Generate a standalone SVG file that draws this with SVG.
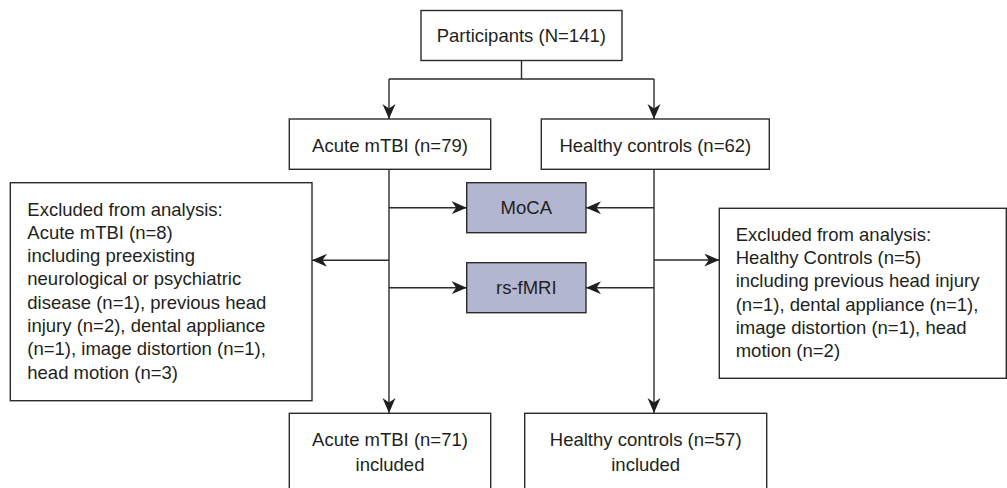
<svg xmlns="http://www.w3.org/2000/svg" width="1007" height="488" viewBox="0 0 1007 488">
<style>
.box{fill:#fff;stroke:#2b2b2b;stroke-width:1.4}
.hl{fill:#b3b6d1;stroke:#2b2b2b;stroke-width:1.4}
.t{font-family:"Liberation Sans",Arial,sans-serif;font-size:18.5px;fill:#231f20}
.c{text-anchor:middle}
.ln{fill:none;stroke:#2b2b2b;stroke-width:1.4}
</style>
<defs>
<marker id="ah" markerUnits="userSpaceOnUse" markerWidth="16" markerHeight="14" refX="15" refY="6.5" orient="auto">
<path d="M0,0 L15,6.5 L0,13 L4.5,6.5 z" fill="#1f1f1f"/>
</marker>
</defs>
<g id="connectors">
<path class="ln" d="M521.5,60.7 V79 M389,79 H654"/>
<path class="ln" d="M389,79 V119" marker-end="url(#ah)"/>
<path class="ln" d="M654,79 V119" marker-end="url(#ah)"/>
<path class="ln" d="M389,169 V413" marker-end="url(#ah)"/>
<path class="ln" d="M654,169 V413" marker-end="url(#ah)"/>
<path class="ln" d="M389,207.7 H466.7" marker-end="url(#ah)"/>
<path class="ln" d="M389,287.7 H466.7" marker-end="url(#ah)"/>
<path class="ln" d="M389,260.3 H312" marker-end="url(#ah)"/>
<path class="ln" d="M654,207.7 H586" marker-end="url(#ah)"/>
<path class="ln" d="M654,287.7 H586" marker-end="url(#ah)"/>
<path class="ln" d="M654,260 H719.3" marker-end="url(#ah)"/>
</g>
<g id="participants">
<rect class="box" x="421" y="10.5" width="201" height="50"/>
<text class="t c" x="521.3" y="41.7">Participants (N=141)</text>
</g>
<g id="acute">
<rect class="box" x="289.3" y="119" width="201.4" height="50.3"/>
<text class="t c" x="390" y="151.7">Acute mTBI (n=79)</text>
</g>
<g id="healthy">
<rect class="box" x="541.3" y="119" width="228" height="50.3"/>
<text class="t c" x="655.3" y="151.7">Healthy controls (n=62)</text>
</g>
<g id="moca">
<rect class="hl" x="466.7" y="182.7" width="119.3" height="50"/>
<text class="t c" x="526.3" y="214.3">MoCA</text>
</g>
<g id="rsfmri">
<rect class="hl" x="466.7" y="262.7" width="119.3" height="50"/>
<text class="t c" x="526.3" y="294.3">rs-fMRI</text>
</g>
<g id="excl-left">
<rect class="box" x="10.3" y="182.7" width="301.7" height="218"/>
<text class="t" x="27.3" y="215.5">Excluded from analysis:</text>
<text class="t" x="27.3" y="238.8">Acute mTBI (n=8)</text>
<text class="t" x="27.3" y="262.1">including preexisting</text>
<text class="t" x="27.3" y="285.4">neurological or psychiatric</text>
<text class="t" x="27.3" y="308.7">disease (n=1), previous head</text>
<text class="t" x="27.3" y="332">injury (n=2), dental appliance</text>
<text class="t" x="27.3" y="355.3">(n=1), image distortion (n=1),</text>
<text class="t" x="27.3" y="378.6">head motion (n=3)</text>
</g>
<g id="excl-right">
<rect class="box" x="719.3" y="208.3" width="287" height="170"/>
<text class="t" x="735.7" y="240.7">Excluded from analysis:</text>
<text class="t" x="735.7" y="264">Healthy Controls (n=5)</text>
<text class="t" x="735.7" y="287.3">including previous head injury</text>
<text class="t" x="735.7" y="310.6">(n=1), dental appliance (n=1),</text>
<text class="t" x="735.7" y="333.9">image distortion (n=1), head</text>
<text class="t" x="735.7" y="357.2">motion (n=2)</text>
</g>
<g id="acute-incl">
<rect class="box" x="289.3" y="413.3" width="201.4" height="80"/>
<text class="t c" x="390" y="446">Acute mTBI (n=71)</text>
<text class="t c" x="390" y="470.7">included</text>
</g>
<g id="healthy-incl">
<rect class="box" x="524.7" y="413.3" width="242" height="80"/>
<text class="t c" x="645.7" y="446">Healthy controls (n=57)</text>
<text class="t c" x="645.7" y="470.7">included</text>
</g>
</svg>
